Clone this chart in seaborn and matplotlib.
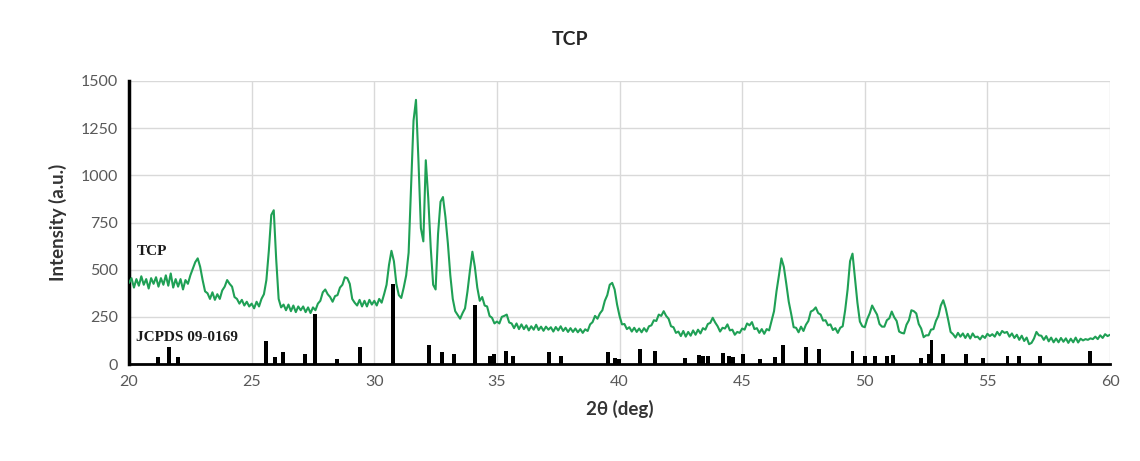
import numpy as np
import pandas as pd
import matplotlib
matplotlib.use("Agg")
import matplotlib.pyplot as plt
import seaborn as sns

# ---- measured XRD scan of TCP (2theta from 20 to 60 deg, 0.1 deg step) ----
scan_start, scan_end = 20.0, 60.0
tcp_counts = [
    430, 455, 405, 450, 415, 465, 420, 450, 400, 455,    # 20
    425, 460, 410, 455, 420, 470, 415, 480, 405, 450,    # 21
    410, 450, 395, 445, 425, 470, 505, 540, 560, 515,    # 22
    445, 385, 375, 345, 380, 340, 370, 345, 390, 410,    # 23
    445, 425, 410, 355, 345, 320, 340, 310, 330, 305,    # 24
    320, 295, 330, 305, 345, 370, 445, 600, 790, 815,    # 25
    555, 345, 300, 315, 285, 315, 280, 310, 275, 305,    # 26
    285, 305, 275, 300, 270, 300, 285, 320, 335, 380,    # 27
    395, 370, 355, 330, 360, 365, 405, 420, 460, 455,    # 28
    425, 345, 325, 310, 340, 305, 335, 305, 340, 315,    # 29
    335, 310, 345, 325, 370, 420, 525, 600, 545, 425,    # 30
    365, 350, 405, 470, 590, 940, 1290, 1400, 1080, 720, # 31
    650, 1080, 880, 620, 420, 395, 690, 860, 885, 780,   # 32
    640, 470, 345, 280, 260, 240, 270, 295, 385, 495,    # 33
    595, 515, 405, 335, 355, 310, 305, 255, 245, 215,    # 34
    225, 215, 250, 255, 262, 220, 215, 190, 215, 185,    # 35
    210, 185, 205, 178, 200, 182, 208, 180, 198, 176,    # 36
    198, 182, 195, 172, 196, 178, 200, 175, 192, 170,    # 37
    190, 170, 188, 168, 185, 165, 184, 175, 210, 222,    # 38
    255, 240, 268, 285, 335, 365, 420, 430, 395, 315,    # 39
    255, 210, 212, 185, 195, 172, 192, 170, 188, 168,    # 40
    190, 172, 200, 205, 232, 228, 262, 255, 280, 255,    # 41
    240, 200, 195, 165, 172, 148, 175, 145, 170, 150,    # 42
    178, 155, 182, 162, 190, 182, 212, 218, 245, 220,    # 43
    200, 172, 192, 188, 210, 178, 182, 155, 170, 165,    # 44
    188, 182, 215, 205, 222, 185, 190, 165, 185, 160,    # 45
    185, 178, 230, 280, 385, 470, 560, 515, 425, 330,    # 46
    265, 195, 192, 168, 198, 175, 208, 228, 278, 285,    # 47
    300, 270, 262, 230, 232, 205, 210, 180, 190, 165,    # 48
    192, 200, 285, 395, 545, 585, 455, 325, 225, 200,    # 49
    195, 238, 268, 310, 285, 262, 212, 198, 198, 232,    # 50
    242, 278, 248, 228, 172, 165, 162, 208, 232, 285,    # 51
    280, 268, 212, 188, 142, 152, 152, 182, 185, 228,    # 52
    255, 310, 338, 295, 235, 170, 158, 140, 165, 145,    # 53
    162, 138, 160, 135, 162, 142, 145, 130, 150, 138,    # 54
    160, 148, 158, 145, 170, 152, 175, 165, 170, 145,    # 55
    162, 138, 155, 128, 150, 122, 140, 105, 112, 135,    # 56
    170, 152, 150, 128, 148, 120, 140, 115, 135, 115,    # 57
    138, 118, 136, 112, 134, 115, 140, 114, 134, 125,    # 58
    132, 128, 136, 132, 145, 132, 152, 138, 158, 148,    # 59
    155,                                                 # 60
]

# ---- reference pattern JCPDS 09-0169 (beta-TCP) ----
jcpds_2theta = [21.17, 21.64, 22.01, 25.57, 25.95, 26.27, 27.18, 27.58, 28.47,
                29.42, 30.78, 32.22, 32.76, 33.24, 34.12, 34.72, 34.90, 35.36,
                35.66, 37.11, 37.60, 39.54, 39.81, 39.99, 40.83, 41.44, 42.68,
                43.25, 43.40, 43.62, 44.23, 44.47, 44.64, 45.02, 45.72, 46.33,
                46.67, 47.62, 48.14, 49.50, 50.00, 50.41, 50.91, 51.16, 52.31,
                52.63, 52.72, 53.20, 54.12, 54.83, 55.82, 56.29, 57.14, 59.17]
jcpds_intensity = [35, 88, 35, 124, 35, 62, 53, 265, 27,
                   88, 424, 102, 61, 55, 313, 40, 55, 67,
                   45, 62, 45, 62, 33, 28, 77, 68, 33,
                   50, 40, 40, 60, 45, 38, 52, 25, 35,
                   103, 88, 80, 71, 45, 45, 45, 50, 30,
                   52, 125, 52, 52, 30, 40, 40, 40, 71]

x_ticks = [20, 25, 30, 35, 40, 45, 50, 55, 60]
y_ticks = [0, 250, 500, 750, 1000, 1250, 1500]

two_theta = np.linspace(scan_start, scan_end, len(tcp_counts))
scan = pd.DataFrame({"two_theta": two_theta, "intensity": tcp_counts})

sns.set_theme(style="whitegrid")
plt.rcParams["font.family"] = ["Lato", "DejaVu Sans"]

fig = plt.figure(figsize=(11.4, 4.61), dpi=100)
ax = fig.add_axes([0.1132, 0.2104, 0.8605, 0.6139])

# reference sticks
ax.bar(jcpds_2theta, jcpds_intensity, width=0.16, color="black",
       linewidth=0, zorder=3)

# measured pattern
sns.lineplot(data=scan, x="two_theta", y="intensity", ax=ax,
             color="#1fa055", linewidth=1.5, zorder=4)

ax.set_xlim(scan_start, scan_end)
ax.set_ylim(0, 1500)
ax.set_xticks(x_ticks)
ax.set_yticks(y_ticks)
ax.grid(True, color="#d9d9d9", linewidth=1.0)
ax.set_axisbelow(True)
for side in ("top", "right"):
    ax.spines[side].set_visible(False)
ax.spines["left"].set_color("black")
ax.spines["left"].set_linewidth(2.5)
ax.spines["bottom"].set_color("black")
ax.spines["bottom"].set_linewidth(2.0)
ax.tick_params(axis="both", length=0, labelsize=11.5, labelcolor="#595959", pad=8)

ax.set_xlabel("2θ (deg)", fontsize=13.5, fontweight="bold", color="#333333", labelpad=8)
ax.set_ylabel("Intensity (a.u.)", fontsize=13.5, fontweight="bold", color="#333333", labelpad=10)
fig.text(0.5, 0.915, "TCP", ha="center", va="center", fontsize=14,
         fontweight="bold", color="#262626")

serif = ["Liberation Serif", "DejaVu Serif"]
ax.text(20.3, 595, "TCP", family=serif, fontsize=11, fontweight="bold",
        color="#1a1a1a", va="center", ha="left", zorder=5)
ax.text(20.3, 140, "JCPDS 09-0169", family=serif, fontsize=11, fontweight="bold",
        color="#1a1a1a", va="center", ha="left", zorder=5)

fig.savefig("out.png", dpi=100, facecolor="white")
